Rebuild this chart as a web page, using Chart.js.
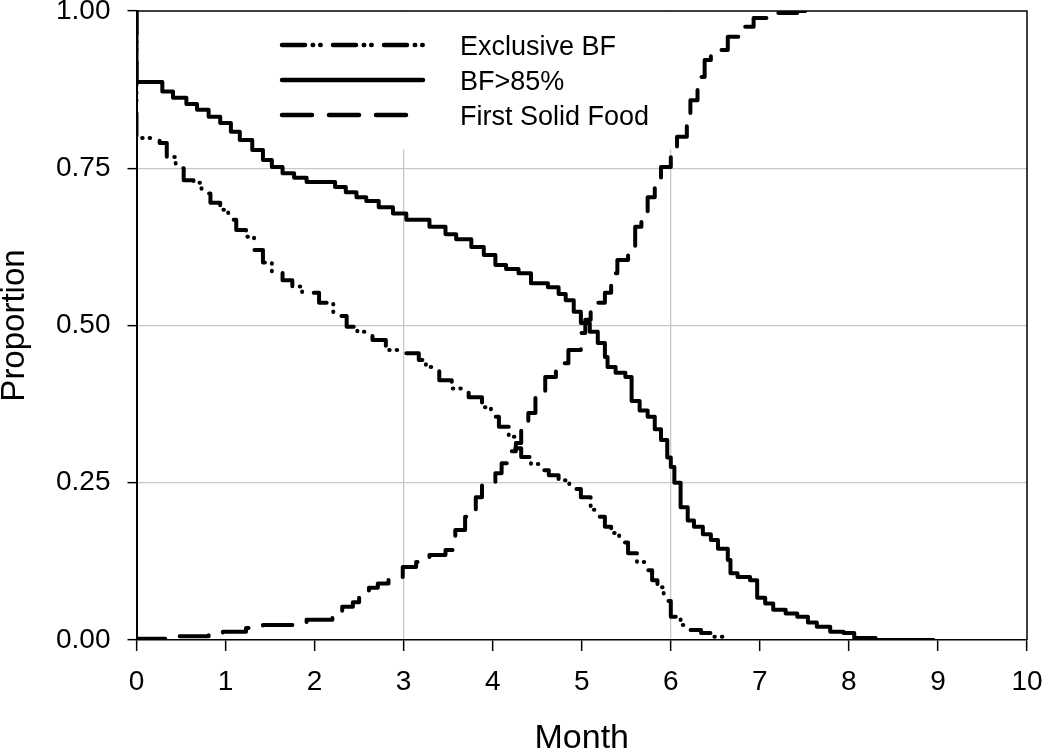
<!DOCTYPE html>
<html>
<head>
<meta charset="utf-8">
<script src="https://cdn.jsdelivr.net/npm/chart.js@4.4.1/dist/chart.umd.min.js"></script>
<style>
  html, body { margin: 0; padding: 0; background: #fff; }
  #chart { display: block; }
</style>
</head>
<body>
<canvas id="chart" width="1050" height="753"></canvas>
<script>
/* ================================================
   DATA — step curves
================================================ */
const exclMonths = [0, 0, 0.26, 0.34, 0.44, 0.53, 0.64, 0.73, 0.83, 0.94, 1.03, 1.12, 1.23, 1.32, 1.42, 1.52,
  1.64, 1.75, 1.86, 2.05, 2.21, 2.36, 2.48, 2.65, 2.8, 3.03, 3.17, 3.25, 3.4, 3.54, 3.73, 3.88, 3.98, 4.07,
  4.18, 4.25, 4.32, 4.43, 4.54, 4.63, 4.74, 4.86, 4.99, 5.1, 5.18, 5.26, 5.33, 5.42, 5.52, 5.62, 5.71, 5.79,
  5.85, 5.92, 6.0, 6.11, 6.22, 6.34, 6.49, 6.6];
const exclProp = [1.0, 0.798, 0.79, 0.768, 0.75, 0.731, 0.727, 0.71, 0.695, 0.684, 0.668, 0.652, 0.641, 0.62, 0.6, 0.585,
  0.572, 0.562, 0.552, 0.536, 0.515, 0.498, 0.49, 0.477, 0.461, 0.456, 0.445, 0.434, 0.413, 0.4, 0.386, 0.37, 0.355, 0.339,
  0.323, 0.305, 0.291, 0.28, 0.27, 0.262, 0.254, 0.24, 0.227, 0.207, 0.196, 0.18, 0.17, 0.155, 0.138, 0.124, 0.111, 0.095,
  0.084, 0.062, 0.037, 0.024, 0.016, 0.011, 0.005, 0.0];

const bfMonths = [0, 0, 0.29, 0.41, 0.56, 0.68, 0.81, 0.94, 1.06, 1.16, 1.3, 1.42, 1.52, 1.64, 1.77, 1.91, 2.23, 2.35,
  2.47, 2.58, 2.72, 2.88, 3.03, 3.29, 3.47, 3.59, 3.76, 3.9, 4.03, 4.15, 4.29, 4.43, 4.62, 4.74, 4.82, 4.91, 4.99,
  5.09, 5.18, 5.26, 5.29, 5.38, 5.49, 5.56, 5.65, 5.74, 5.82, 5.89, 5.96, 6.0, 6.04, 6.11, 6.19, 6.26, 6.36, 6.45,
  6.53, 6.64, 6.67, 6.75, 6.89, 6.97, 7.06, 7.15, 7.29, 7.42, 7.54, 7.64, 7.79, 7.94, 8.06, 8.3, 8.95];
const bfProp = [1.0, 0.887, 0.872, 0.862, 0.852, 0.843, 0.832, 0.822, 0.808, 0.795, 0.779, 0.763, 0.752, 0.742, 0.735, 0.728, 0.72, 0.712,
  0.704, 0.698, 0.688, 0.678, 0.668, 0.657, 0.645, 0.637, 0.625, 0.612, 0.596, 0.59, 0.583, 0.567, 0.561, 0.55, 0.54, 0.522, 0.504,
  0.49, 0.472, 0.45, 0.434, 0.425, 0.418, 0.38, 0.365, 0.355, 0.335, 0.318, 0.29, 0.275, 0.25, 0.211, 0.19, 0.18, 0.168, 0.159,
  0.145, 0.127, 0.106, 0.1, 0.095, 0.067, 0.058, 0.048, 0.042, 0.037, 0.028, 0.021, 0.013, 0.011, 0.003, 0.0, 0.0];

const solidMonths = [0, 0, 0.46, 0.81, 0.97, 1.23, 1.42, 1.82, 1.91, 2.2, 2.31, 2.43, 2.5, 2.61, 2.71, 2.83, 2.99, 3.14,
  3.29, 3.47, 3.58, 3.69, 3.81, 3.88, 4.03, 4.1, 4.2, 4.26, 4.32, 4.4, 4.48, 4.59, 4.71, 4.85, 4.99, 5.04, 5.1, 5.26,
  5.33, 5.4, 5.52, 5.6, 5.67, 5.74, 5.82, 5.89, 6.0, 6.07, 6.18, 6.22, 6.3, 6.38, 6.45, 6.64, 6.78, 6.93, 7.15, 7.42, 7.51];
const solidProp = [0.0, 0.002, 0.006, 0.011, 0.013, 0.019, 0.024, 0.028, 0.032, 0.037, 0.053, 0.06, 0.068, 0.083, 0.09, 0.1, 0.116, 0.124,
  0.135, 0.143, 0.175, 0.196, 0.227, 0.25, 0.265, 0.281, 0.3, 0.313, 0.339, 0.361, 0.386, 0.418, 0.44, 0.461, 0.488, 0.509, 0.536, 0.552,
  0.583, 0.604, 0.625, 0.657, 0.679, 0.704, 0.731, 0.752, 0.779, 0.8, 0.831, 0.858, 0.895, 0.922, 0.938, 0.959, 0.975, 0.989, 0.997, 1.0, 1.0];

const seriesLabels = ['Exclusive BF', 'BF>85%', 'First Solid Food'];
const yTicks = [0, 0.25, 0.5, 0.75, 1];

const FONT = "'Liberation Sans', Arial, sans-serif";
const GRID = '#c8c8c8';

function toPoints(xs, ys) { return xs.map((x, i) => ({ x, y: ys[i] })); }

/* ================================================
   PLUGINS — legend box and frame
================================================ */
const frameLegend = {
  id: 'frameLegend',
  beforeDatasetsDraw(chart) {
    const c = chart.ctx;
    const a = chart.chartArea;
    c.save();
    c.fillStyle = '#fff';
    c.fillRect(258, a.top + 1, 416, 137);
    c.restore();
  },
  afterDraw(chart) {
    const c = chart.ctx;
    const a = chart.chartArea;
    c.save();
    // top and right frame
    c.strokeStyle = '#000';
    c.lineWidth = 1.5;
    c.beginPath();
    c.moveTo(a.left, a.top);
    c.lineTo(a.right, a.top);
    c.lineTo(a.right, a.bottom);
    c.stroke();

    // legend
    const rows = [45, 80, 115];
    chart.data.datasets.forEach((ds, i) => {
      c.setLineDash(ds.borderDash || []);
      c.lineCap = 'round';
      c.lineWidth = 4.5;
      c.beginPath();
      c.moveTo(282, rows[i]);
      c.lineTo(423, rows[i]);
      c.stroke();
      c.setLineDash([]);
      c.fillStyle = '#000';
      c.font = `27px ${FONT}`;
      c.textBaseline = 'alphabetic';
      c.fillText(ds.label, 460, rows[i] + 10);
    });
    c.restore();
  },
};

/* ================================================
   CHART
================================================ */
new Chart(document.getElementById('chart'), {
  type: 'line',
  data: {
    datasets: [
      {
        label: seriesLabels[0],
        data: toPoints(exclMonths, exclProp),
        borderDash: [23, 7.7, 0.5, 7, 0.5, 12.3],
      },
      {
        label: seriesLabels[1],
        data: toPoints(bfMonths, bfProp),
        borderDash: [],
      },
      {
        label: seriesLabels[2],
        data: toPoints(solidMonths, solidProp),
        borderDash: [30, 17],
      },
    ].map(ds => ({
      ...ds,
      stepped: true,
      borderColor: '#000',
      borderWidth: 4,
      borderCapStyle: 'round',
      borderJoinStyle: 'round',
      pointRadius: 0,
      fill: false,
    })),
  },
  options: {
    responsive: false,
    animation: false,
    events: [],
    layout: { padding: { top: 11, right: 23, bottom: 0, left: 0 } },
    plugins: { legend: { display: false }, tooltip: { enabled: false } },
    scales: {
      x: {
        type: 'linear',
        min: 0,
        max: 10,
        ticks: { stepSize: 1, color: '#000', padding: 14, font: { family: FONT, size: 28 } },
        grid: {
          color: ctx => (ctx.tick && (ctx.tick.value === 3 || ctx.tick.value === 6)) ? GRID : 'rgba(0,0,0,0)',
          lineWidth: 1.3,
          tickColor: '#000',
          tickLength: 11,
          tickWidth: 1.5,
        },
        border: { color: '#000', width: 1.5 },
        title: { display: true, text: 'Month', color: '#000', font: { family: FONT, size: 34 }, padding: { top: 0, bottom: -6 } },
        afterFit: s => { s.height = 113; s.paddingLeft = 0; s.paddingRight = 0; },
      },
      y: {
        min: 0,
        max: 1,
        afterBuildTicks: s => { s.ticks = yTicks.map(v => ({ value: v })); },
        ticks: { color: '#000', padding: 17, font: { family: FONT, size: 28 }, callback: v => v.toFixed(2) },
        grid: {
          color: ctx => (ctx.tick && ctx.tick.value > 0 && ctx.tick.value < 1) ? GRID : 'rgba(0,0,0,0)',
          lineWidth: 1.3,
          tickColor: '#000',
          tickLength: 9,
          tickWidth: 1.5,
        },
        border: { color: '#000', width: 2 },
        title: { display: true, text: 'Proportion', color: '#000', font: { family: FONT, size: 33 }, padding: { top: -5, bottom: 0 } },
        afterFit: s => { s.width = 136.5; s.paddingTop = 0; s.paddingBottom = 0; },
      },
    },
  },
  plugins: [frameLegend],
});
</script>
</body>
</html>
